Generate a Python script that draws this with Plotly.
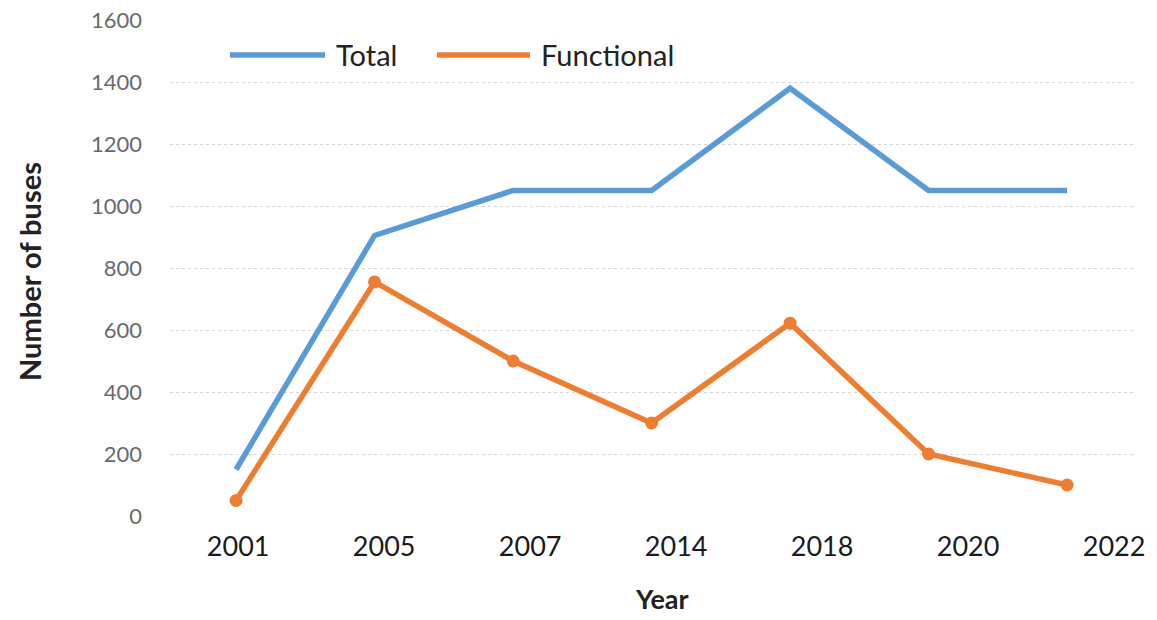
import plotly.graph_objects as go

# Fleet size by survey year
years = ["2001", "2005", "2007", "2014", "2018", "2020", "2022"]
total_buses = [150, 905, 1050, 1050, 1380, 1050, 1050]
functional_buses = [50, 755, 500, 300, 622, 200, 100]

BLUE = "#5B9BD5"
ORANGE = "#ED7D31"
FONT = "Lato, 'Open Sans', sans-serif"

W, H = 1157, 620
ML, MR, MT, MB = 170, 22, 20, 104
PW, PH = W - ML - MR, H - MT - MB

def px_x(p):
    return (p - ML) / PW

def px_y(p):
    return (H - MB - p) / PH

# Points sit on evenly spaced slots; the year labels run on a slightly wider step.
xpos = list(range(len(years)))
label_step = 1.054
tick_pos = [0.015 + label_step * i for i in range(len(years))]

fig = go.Figure()
fig.add_trace(go.Scatter(
    x=xpos, y=total_buses, mode="lines", name="Total",
    line=dict(color=BLUE, width=5.5),
))
fig.add_trace(go.Scatter(
    x=xpos, y=functional_buses, mode="lines+markers", name="Functional",
    line=dict(color=ORANGE, width=5.5),
    marker=dict(color=ORANGE, size=13),
))

# Legend drawn inline at the top of the plot
legend_items = [("Total", BLUE, 230, 325, 334), ("Functional", ORANGE, 437, 530, 539)]
shapes, annotations = [], []
for name, color, x0, x1, tx in legend_items:
    shapes.append(dict(type="line", xref="paper", yref="paper",
                       x0=px_x(x0), x1=px_x(x1), y0=px_y(55), y1=px_y(55),
                       line=dict(color=color, width=5.5)))
    annotations.append(dict(text=name, xref="paper", yref="paper",
                            x=px_x(tx), y=px_y(54), xanchor="left", yanchor="middle",
                            showarrow=False, font=dict(family=FONT, size=29, color="#222222")))

annotations.append(dict(text="<b>Number of buses</b>", xref="paper", yref="paper",
                        x=px_x(29), y=px_y(272), textangle=-90, showarrow=False,
                        xanchor="center", yanchor="middle",
                        font=dict(family=FONT, size=29, color="#222222")))
annotations.append(dict(text="<b>Year</b>", xref="paper", yref="paper",
                        x=px_x(662), y=px_y(617), showarrow=False,
                        xanchor="center", yanchor="bottom",
                        font=dict(family=FONT, size=27, color="#222222")))

fig.update_layout(
    width=W, height=H,
    margin=dict(l=ML, r=MR, t=MT, b=MB, autoexpand=False),
    paper_bgcolor="white", plot_bgcolor="white",
    showlegend=False,
    shapes=shapes, annotations=annotations,
    font=dict(family=FONT),
)
fig.update_xaxes(
    range=[-0.477, 6.49], tickvals=tick_pos, ticktext=years,
    showgrid=False, zeroline=False, showline=False, ticks="",
    tickfont=dict(family=FONT, size=27, color="#1a1a1a"),
    ticklabelstandoff=12, automargin=False,
)
fig.update_yaxes(
    range=[0, 1600], dtick=200, showgrid=True,
    gridcolor="#d6d6d6", gridwidth=1, griddash="dot",
    zeroline=False, showline=False, ticks="",
    tickfont=dict(family=FONT, size=22, color="#6a6a6a"),
    ticklabelstandoff=27, automargin=False,
)

fig.write_html("out.html")
